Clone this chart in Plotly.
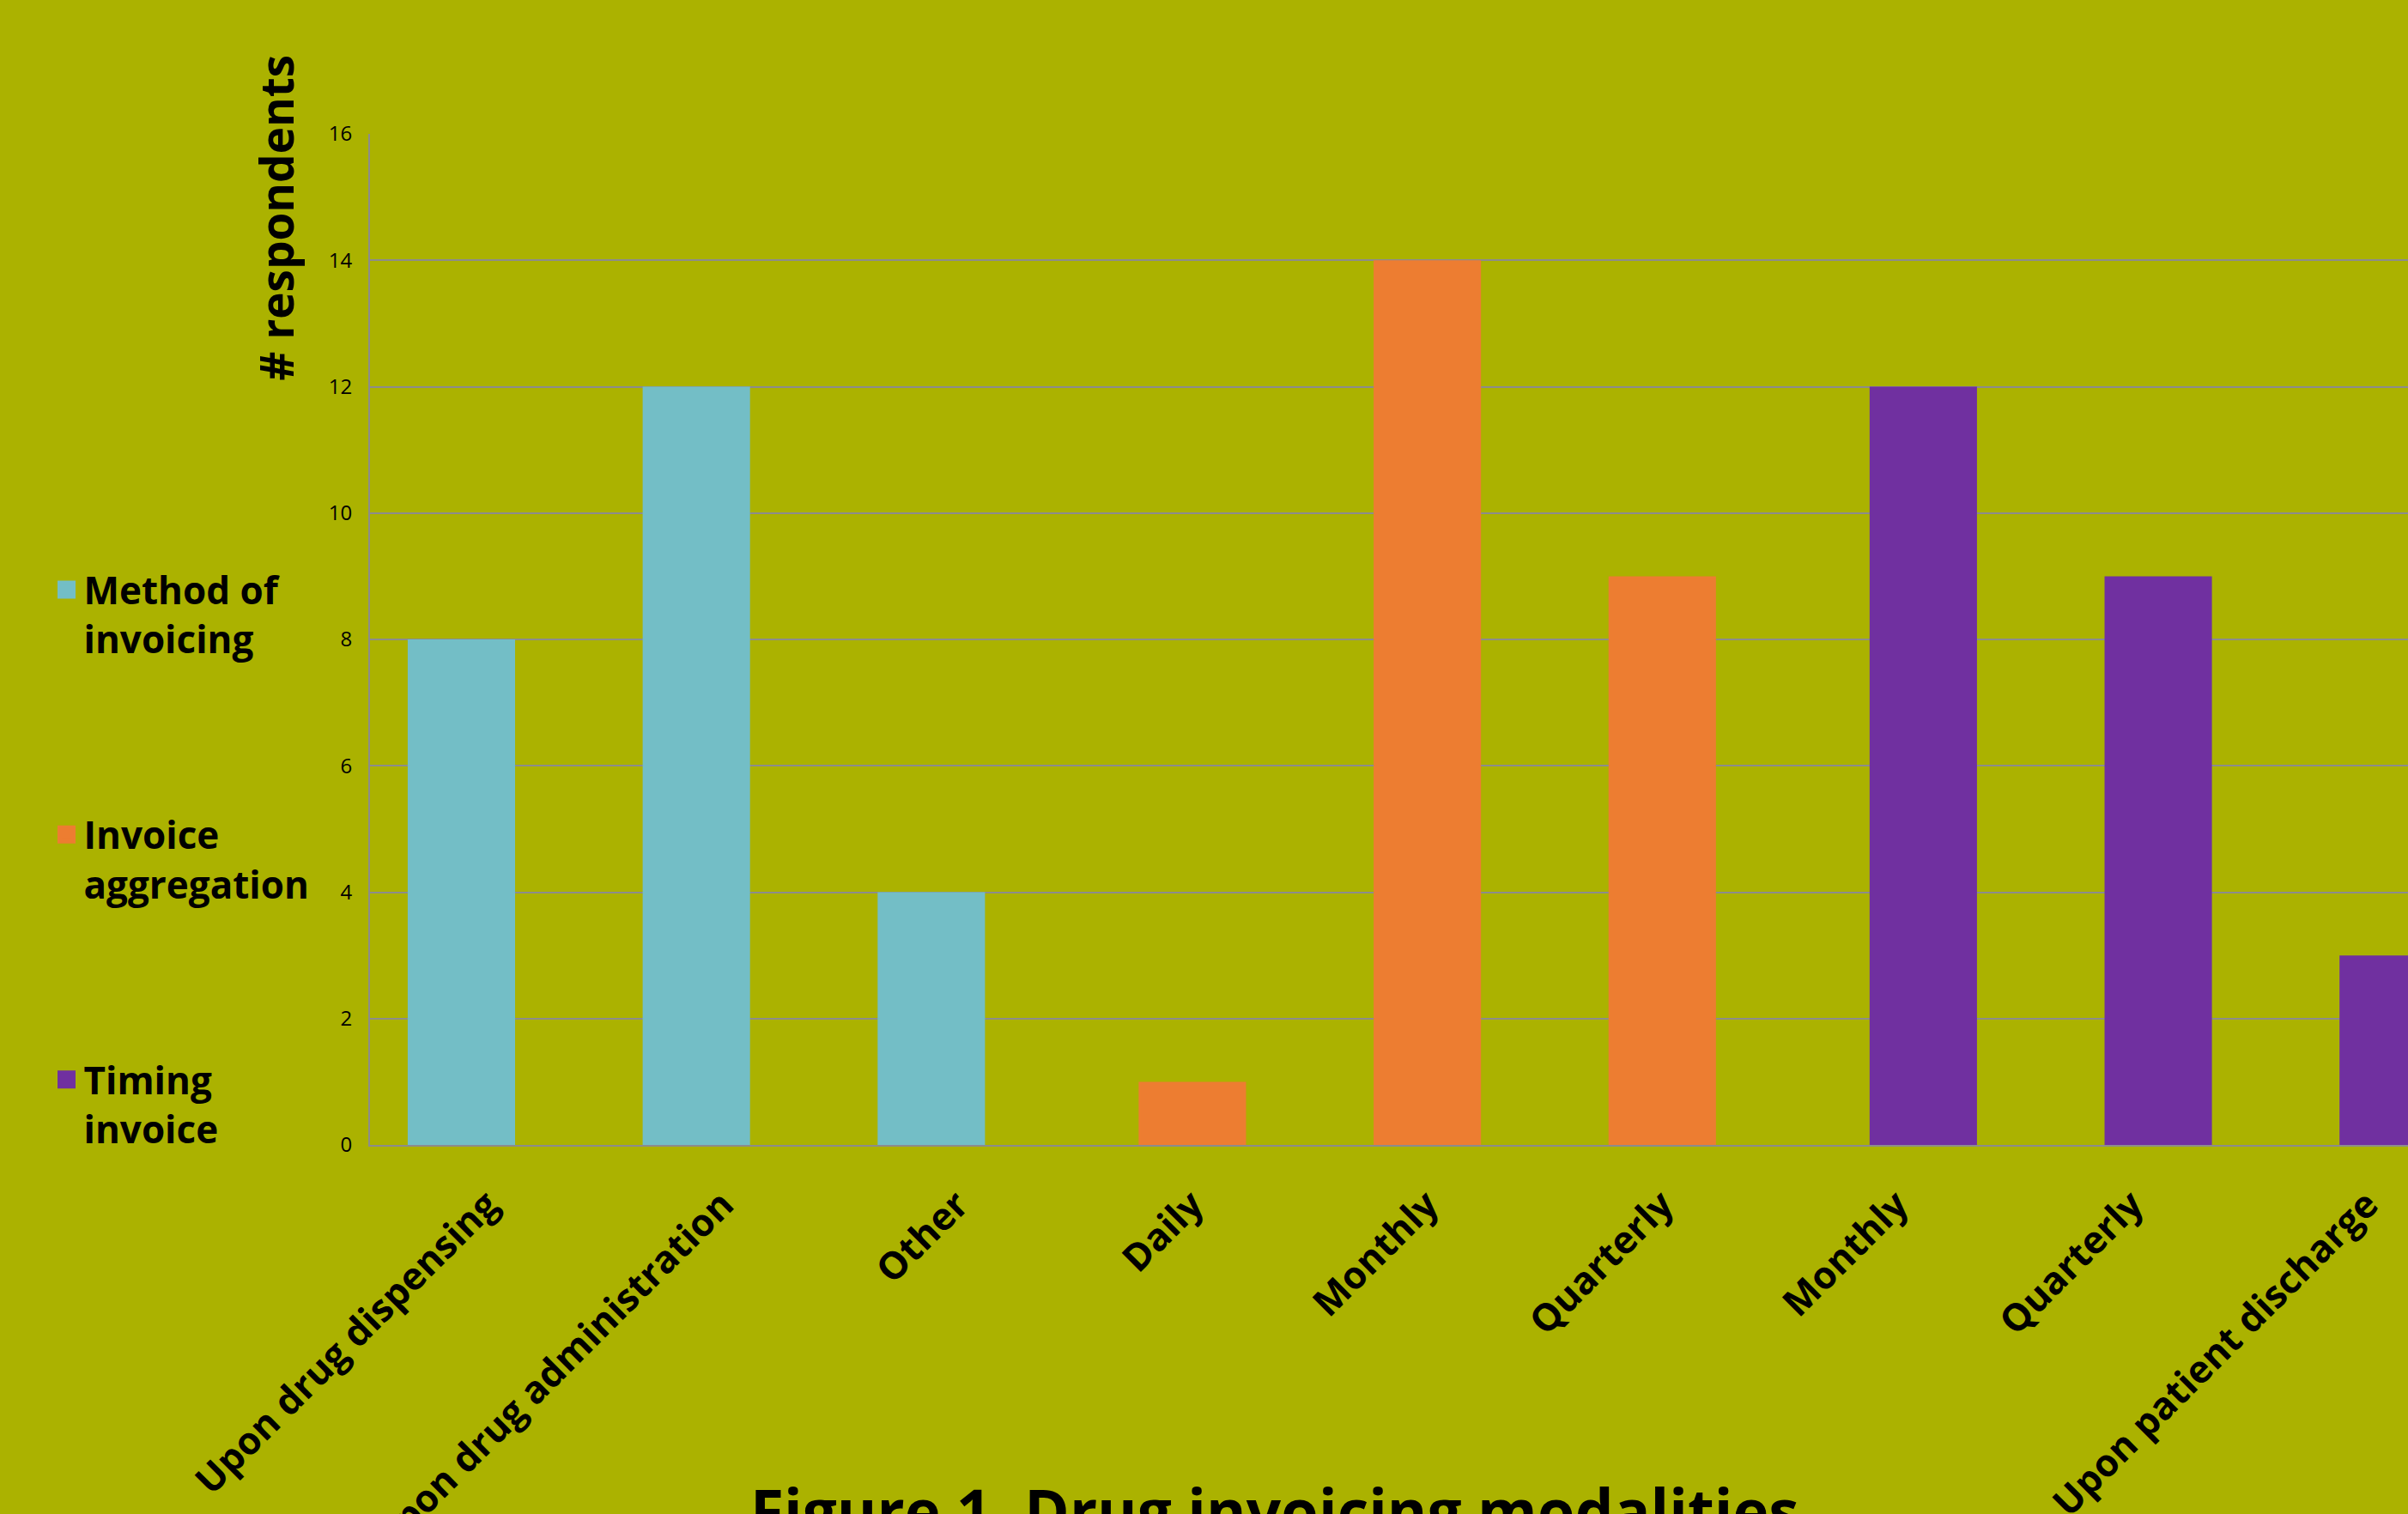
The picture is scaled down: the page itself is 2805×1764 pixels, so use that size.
import plotly.graph_objects as go

# ---- data ----
categories = ["Upon drug dispensing", "Upon drug administration", "Other",
              "Daily", "Monthly", "Quarterly",
              "Monthly", "Quarterly", "Upon patient discharge"]
method_of_invoicing = [8, 12, 4, None, None, None, None, None, None]
invoice_aggregation = [None, None, None, 1, 14, 9, None, None, None]
timing_invoice = [None, None, None, None, None, None, 12, 9, 3]
series_names = ["Method of<br>invoicing", "Invoice<br>aggregation", "Timing<br>invoice"]
y_ticks = [0, 2, 4, 6, 8, 10, 12, 14, 16]

# ---- style ----
BG = "#ABB200"
COLORS = ["#73BEC6", "#ED7D31", "#7030A0"]
GRID = "#8C8C8C"
FONT = "Open Sans"

positions = list(range(len(categories)))
bar_width = 0.457
shifts = [-0.111, 0.0, 0.111]

fig = go.Figure()
for name, vals, color, shift in zip(series_names,
                                    [method_of_invoicing, invoice_aggregation, timing_invoice],
                                    COLORS, shifts):
    fig.add_trace(go.Bar(
        x=positions, y=vals, name=name,
        marker=dict(color=color, line=dict(width=0)),
        width=bar_width, offset=shift - bar_width / 2,
        showlegend=False,
    ))
    # legend-only entry with a larger square key
    fig.add_trace(go.Scatter(
        x=[None], y=[None], mode="markers", name=name, legendgroup=name,
        marker=dict(symbol="square", size=16, color=color,
                    line=dict(color=color, width=5)),
        showlegend=True,
    ))

fig.update_layout(
    width=2805, height=1764, autosize=False,
    paper_bgcolor=BG, plot_bgcolor=BG,
    margin=dict(l=431, r=0, t=156, b=430, pad=0, autoexpand=False),
    barmode="overlay",
    font=dict(family=FONT, color="black"),
    legend=dict(
        xref="container", yref="container",
        x=0.0205, y=0.6305, xanchor="left", yanchor="top",
        bgcolor="rgba(0,0,0,0)",
        font=dict(family=FONT, size=44, color="black", weight=700),
        traceorder="grouped", tracegroupgap=168, valign="top",
        itemclick=False,
    ),
    xaxis=dict(
        tickmode="array", tickvals=positions, ticktext=categories,
        range=[-0.5, 8.174], tickangle=-45, automargin=False,
        tickfont=dict(family=FONT, size=44, color="black", weight=700),
        showgrid=False, showline=True, linecolor=GRID, linewidth=2,
        ticks="", zeroline=False, ticklabelstandoff=24,
    ),
    yaxis=dict(
        range=[0, 16], tickmode="array", tickvals=y_ticks, automargin=False,
        tickfont=dict(family=FONT, size=24, color="black"),
        showgrid=True, gridcolor=GRID, gridwidth=2,
        showline=True, linecolor=GRID, linewidth=2,
        ticks="", zeroline=False, ticklabelstandoff=14,
    ),
    annotations=[
        dict(text="# respondents", xref="paper", yref="paper",
             x=-0.0459, y=0.917, xanchor="center", yanchor="middle",
             textangle=-90, showarrow=False,
             font=dict(family=FONT, size=53, color="black", weight=700)),
        dict(text="Figure 1. Drug invoicing modalities", xref="paper", yref="paper",
             x=0.444, y=-0.318, xanchor="center", yanchor="top",
             showarrow=False,
             font=dict(family=FONT, size=71, color="black", weight=700)),
    ],
)

fig.write_html(
    "out.html",
    config={"displayModeBar": False},
    post_script="document.body.style.margin='0';document.body.style.overflow='hidden';",
)
